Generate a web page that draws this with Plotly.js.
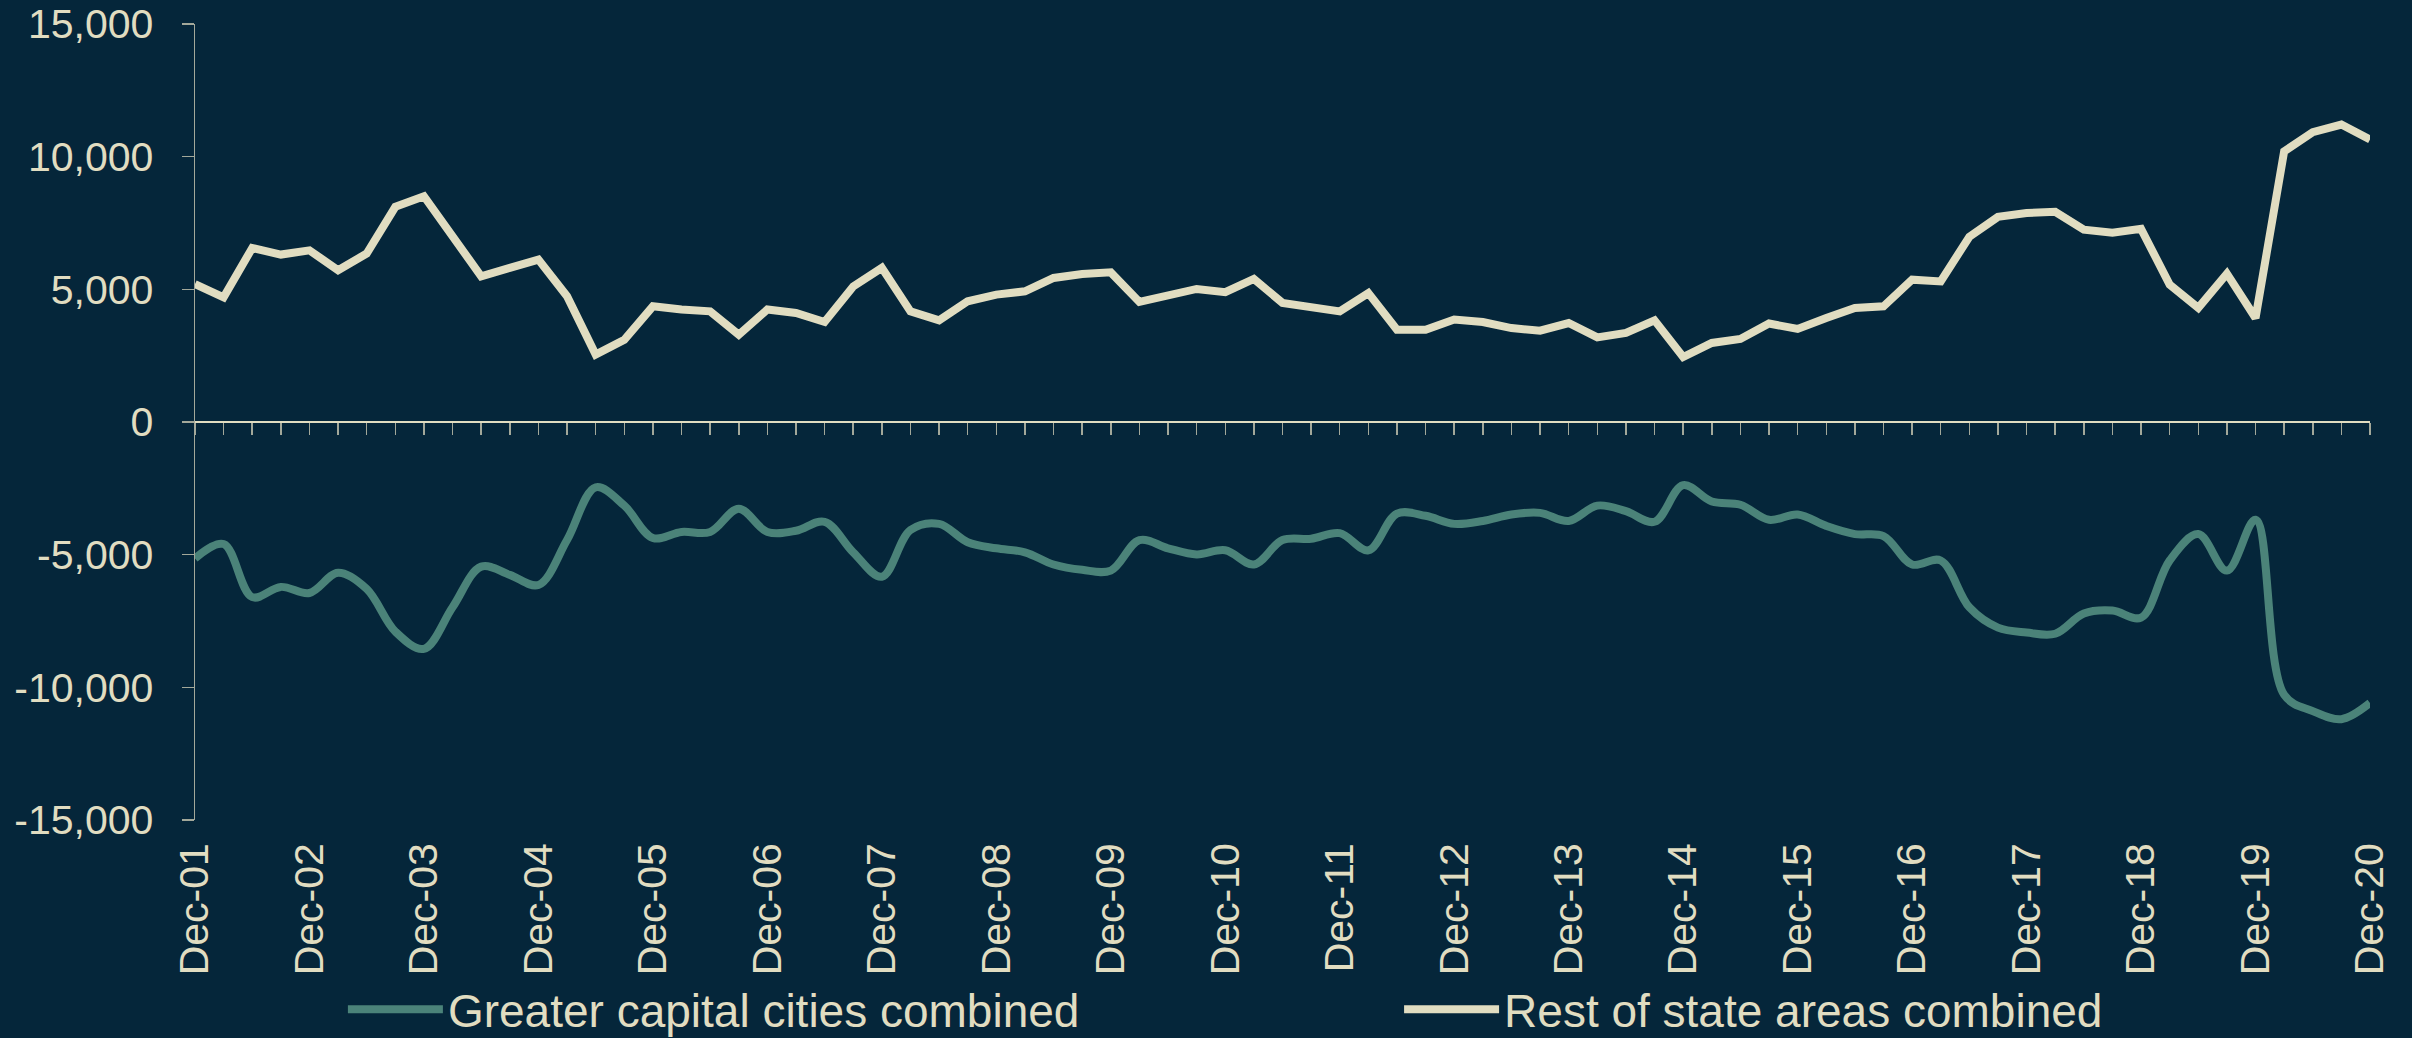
<!DOCTYPE html>
<html>
<head>
<meta charset="utf-8">
<script src="https://cdn.plot.ly/plotly-3.0.1.min.js"></script>
<style>
html,body{margin:0;padding:0;background:#05263a;}
#chart{width:2412px;height:1038px;}
</style>
</head>
<body>
<div id="chart"></div>
<script>
const quarters = [
  "Dec-01",
  "Mar-02","Jun-02","Sep-02","Dec-02",
  "Mar-03","Jun-03","Sep-03","Dec-03",
  "Mar-04","Jun-04","Sep-04","Dec-04",
  "Mar-05","Jun-05","Sep-05","Dec-05",
  "Mar-06","Jun-06","Sep-06","Dec-06",
  "Mar-07","Jun-07","Sep-07","Dec-07",
  "Mar-08","Jun-08","Sep-08","Dec-08",
  "Mar-09","Jun-09","Sep-09","Dec-09",
  "Mar-10","Jun-10","Sep-10","Dec-10",
  "Mar-11","Jun-11","Sep-11","Dec-11",
  "Mar-12","Jun-12","Sep-12","Dec-12",
  "Mar-13","Jun-13","Sep-13","Dec-13",
  "Mar-14","Jun-14","Sep-14","Dec-14",
  "Mar-15","Jun-15","Sep-15","Dec-15",
  "Mar-16","Jun-16","Sep-16","Dec-16",
  "Mar-17","Jun-17","Sep-17","Dec-17",
  "Mar-18","Jun-18","Sep-18","Dec-18",
  "Mar-19","Jun-19","Sep-19","Dec-19",
  "Mar-20","Jun-20","Sep-20","Dec-20"
];

const decLabels = ["Dec-01","Dec-02","Dec-03","Dec-04","Dec-05","Dec-06","Dec-07","Dec-08","Dec-09","Dec-10",
  "Dec-11","Dec-12","Dec-13","Dec-14","Dec-15","Dec-16","Dec-17","Dec-18","Dec-19","Dec-20"];

const restOfState = [
  5200,
  4700,6560,6310,6470,
  5720,6350,8110,8510,
  7000,5490,5810,6120,
  4740,2540,3100,4360,
  4240,4170,3290,4240,
  4110,3770,5110,5810,
  4170,3830,4550,4800,
  4925,5430,5580,5640,
  4525,4740,5015,4890,
  5390,4490,4360,4170,
  4860,3480,3480,3860,
  3770,3540,3440,3730,
  3190,3355,3830,2450,
  2980,3130,3710,3510,
  3920,4300,4360,5365,
  5300,6980,7730,7880,
  7920,7250,7130,7280,
  5180,4300,5590,3920,
  10200,10920,11210,10650
];

const capitalCities = [
  -5140,
  -4600,-6600,-6215,-6445,
  -5680,-6290,-7900,-8550,
  -6980,-5450,-5760,-6140,
  -4450,-2460,-3150,-4370,
  -4145,-4145,-3270,-4145,
  -4100,-3760,-4910,-5830,
  -4070,-3840,-4530,-4760,
  -4910,-5370,-5570,-5600,
  -4450,-4760,-4990,-4835,
  -5370,-4450,-4400,-4190,
  -4835,-3450,-3535,-3840,
  -3730,-3485,-3425,-3730,
  -3150,-3360,-3760,-2380,
  -2995,-3120,-3685,-3485,
  -3915,-4225,-4300,-5370,
  -5220,-6985,-7750,-7935,
  -7980,-7215,-7105,-7370,
  -5220,-4225,-5600,-3685,
  -10280,-10895,-11200,-10590
];

const yTickVals = [-15000,-10000,-5000,0,5000,10000,15000];
const yTickText = ["-15,000","-10,000","-5,000","0","5,000","10,000","15,000"];

const BG = "#05263a";
const CREAM = "#e1ddc1";
const TEAL = "#4b8379";
const AXIS_GREY = "#a3a89a";
const FONT = "'Liberation Sans', Arial, sans-serif";

const traces = [
  {
    name: "Greater capital cities combined",
    x: quarters, y: capitalCities,
    xaxis: "x2", yaxis: "y",
    type: "scatter", mode: "lines",
    line: {color: TEAL, width: 8, shape: "spline", smoothing: 1},
    legend: "legend",
    hoverinfo: "x+y"
  },
  {
    name: "Rest of state areas combined",
    x: quarters, y: restOfState,
    xaxis: "x", yaxis: "y",
    type: "scatter", mode: "lines",
    line: {color: CREAM, width: 8, shape: "linear"},
    legend: "legend2",
    hoverinfo: "x+y"
  }
];

const catAxisBase = {
  type: "category",
  categoryorder: "array",
  categoryarray: quarters,
  range: [0, quarters.length - 1],
  showgrid: false,
  zeroline: false,
  fixedrange: true
};

const legendBase = {
  orientation: "h",
  xanchor: "left",
  yanchor: "middle",
  y: -0.238,
  bgcolor: "rgba(0,0,0,0)",
  borderwidth: 0,
  itemwidth: 95,
  font: {family: FONT, size: 46, color: CREAM}
};

const layout = {
  width: 2412,
  height: 1038,
  paper_bgcolor: BG,
  plot_bgcolor: BG,
  font: {family: FONT, size: 41, color: CREAM},
  margin: {l: 195, r: 42, t: 24, b: 218, autoexpand: false},
  showlegend: true,
  xaxis: Object.assign({}, catAxisBase, {
    anchor: "free",
    position: 0.5,
    showline: true,
    linecolor: CREAM,
    linewidth: 2,
    ticks: "outside",
    ticklen: 12,
    tickwidth: 1.5,
    tickcolor: AXIS_GREY,
    tickmode: "linear",
    tick0: 0,
    dtick: 1,
    showticklabels: false
  }),
  xaxis2: Object.assign({}, catAxisBase, {
    overlaying: "x",
    anchor: "y",
    side: "bottom",
    showline: false,
    ticks: "",
    tickmode: "array",
    tickvals: decLabels,
    ticktext: decLabels,
    tickangle: -90,
    ticklabelstandoff: 14,
    tickfont: {family: FONT, size: 41, color: CREAM}
  }),
  yaxis: {
    range: [-15000, 15000],
    tickmode: "array",
    tickvals: yTickVals,
    ticktext: yTickText,
    showline: true,
    linecolor: AXIS_GREY,
    linewidth: 1.5,
    ticks: "outside",
    ticklen: 12,
    tickwidth: 1.5,
    tickcolor: AXIS_GREY,
    showgrid: false,
    zeroline: false,
    ticklabelstandoff: 20,
    tickfont: {family: FONT, size: 41, color: CREAM},
    fixedrange: true
  },
  legend: Object.assign({}, legendBase, {x: 0.068}),
  legend2: Object.assign({}, legendBase, {x: 0.5536})
};

Plotly.newPlot("chart", traces, layout, {displayModeBar: false, staticPlot: true});
</script>
</body>
</html>
